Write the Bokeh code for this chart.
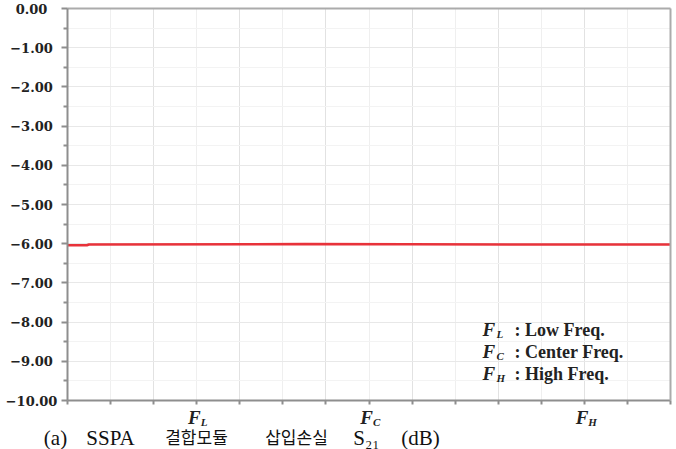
from bokeh.plotting import figure
from bokeh.models import Label, FixedTicker, Range1d, LinearAxis
from bokeh.embed import file_html
from bokeh.resources import INLINE

# ---- data ----
freq_pos = [0.0, 0.45, 0.5, 5.5, 11.6, 14.0]
s21_db = [-6.04, -6.04, -6.02, -6.01, -6.02, -6.02]

y_ticks = [0, -1, -2, -3, -4, -5, -6, -7, -8, -9, -10]
y_tick_labels = ["0.00", "−1.00", "−2.00", "−3.00", "−4.00", "−5.00",
                 "−6.00", "−7.00", "−8.00", "−9.00", "−10.00"]
x_ticks = list(range(15))
x_label_pos = [3, 7, 12]
x_label_main = ["F", "F", "F"]
x_label_sub = ["L", "C", "H"]
legend_sub = ["L", "C", "H"]
legend_desc = [": Low Freq.", ": Center Freq.", ": High Freq."]
caption_parts = ["(a)", "SSPA", "결합모듈", "삽입손실", "S₂₁", "(dB)"]

# ---- layout (pixels) ----
X0, X1 = 0, 14
Y0, Y1 = -10, 0
W, H = 676, 449
BL, BR, BT, BB = 67, 6, 8, 49
pxx = (W - BL - BR) / (X1 - X0)
pxy = (H - BT - BB) / (Y1 - Y0)


def px_x(px):
    return X0 + (px - BL) / pxx


def px_y(py):
    return Y1 - (py - BT) / pxy


p = figure(width=W, height=H, output_backend="svg", toolbar_location=None,
           x_range=Range1d(X0 - BL / pxx, X1 + BR / pxx),
           y_range=Range1d(Y0 - BB / pxy, Y1 + BT / pxy),
           min_border=0, x_axis_location="below", y_axis_location="left")
p.background_fill_color = "white"
p.border_fill_color = "white"
p.outline_line_color = None

AX = "#8e8e8e"
xt = FixedTicker(ticks=[t for t in x_ticks if t % 2 == 0],
                 minor_ticks=[t for t in x_ticks if t % 2 == 1])
yt = FixedTicker(ticks=y_ticks, minor_ticks=[t - 0.5 for t in y_ticks[:-1]])

xa = p.xaxis[0]
ya = p.yaxis[0]
xa.ticker = xt
ya.ticker = yt
xa.fixed_location = Y0
ya.fixed_location = X0
xa.bounds = (X0, X1)
ya.bounds = (Y0, Y1)

top_ax = LinearAxis(fixed_location=Y1, bounds=(X0, X1), ticker=xt)
right_ax = LinearAxis(fixed_location=X1, bounds=(Y0, Y1), ticker=yt)
p.add_layout(top_ax, "above")
p.add_layout(right_ax, "right")

for ax in (xa, ya, top_ax, right_ax):
    ax.axis_line_color = AX
    ax.axis_line_width = 2
    ax.major_tick_line_color = AX
    ax.minor_tick_line_color = AX
    ax.major_tick_line_width = 2
    ax.minor_tick_line_width = 2
    ax.major_tick_in = 0
    ax.minor_tick_in = 0
    ax.major_label_text_color = None
    ax.major_label_text_font_size = "1px"
xa.major_tick_out = 4
xa.minor_tick_out = 4
ya.major_tick_out = 6
ya.minor_tick_out = 4
for ax in (top_ax, right_ax):
    ax.axis_line_color = "#ababab"
    ax.major_tick_out = 0
    ax.minor_tick_out = 0
    ax.major_tick_line_color = None
    ax.minor_tick_line_color = None

p.xgrid.ticker = xt
p.ygrid.ticker = yt
p.xgrid.bounds = (X0, X1)
p.ygrid.bounds = (Y0, Y1)
p.xgrid.cross_bounds = (Y0, Y1)
p.ygrid.cross_bounds = (X0, X1)
p.xgrid.grid_line_color = "#e2e2e2"
p.xgrid.minor_grid_line_color = "#efefef"
p.ygrid.grid_line_color = "#e8e8e8"
p.ygrid.minor_grid_line_color = "#f3f3f3"

p.line(freq_pos, s21_db, line_color="#e8323a", line_width=2.5)

SERIF = "DejaVu Serif"
LSERIF = "Liberation Serif"
INK = "#222222"

# y tick labels (centred as in the reference)
for t, lab in zip(y_ticks, y_tick_labels):
    p.add_layout(Label(x=px_x(31), y=t, text=lab, text_align="center",
                       text_baseline="middle", text_font=SERIF,
                       text_font_style="bold", text_font_size="13px",
                       text_color=INK))

# x tick labels F_L, F_C, F_H
for xp, m, s in zip(x_label_pos, x_label_main, x_label_sub):
    p.add_layout(Label(x=xp + 4 / pxx, y=px_y(417), text=m,
                       text_align="right", text_baseline="alphabetic",
                       text_font=LSERIF, text_font_style="bold italic",
                       text_font_size="19px", text_color=INK))
    p.add_layout(Label(x=xp + 4 / pxx, y=px_y(421), text=s,
                       text_align="left", text_baseline="alphabetic",
                       text_font=LSERIF, text_font_style="bold italic",
                       text_font_size="11px", text_color=INK))

# legend note
for i, (s, d) in enumerate(zip(legend_sub, legend_desc)):
    base_px = 329 + 22 * i
    p.add_layout(Label(x=px_x(482), y=px_y(base_px), text="F",
                       text_align="left", text_baseline="alphabetic",
                       text_font=LSERIF, text_font_style="bold italic",
                       text_font_size="19px", text_color=INK))
    p.add_layout(Label(x=px_x(496), y=px_y(base_px + 4), text=s,
                       text_align="left", text_baseline="alphabetic",
                       text_font=LSERIF, text_font_style="bold italic",
                       text_font_size="11px", text_color=INK))
    p.add_layout(Label(x=px_x(514), y=px_y(base_px), text=d,
                       text_align="left", text_baseline="alphabetic",
                       text_font=LSERIF, text_font_style="bold",
                       text_font_size="18px", text_color=INK))

# caption, laid out word by word as in the reference
cap_center_px = [55, 110, 196, 296, 366, 420]
cap_is_cjk = [False, False, True, True, False, False]
for txt, cp, cjk in zip(caption_parts, cap_center_px, cap_is_cjk):
    if cjk:
        lab = Label(x=px_x(cp), y=px_y(448), text=txt, text_align="center",
                    text_baseline="bottom", text_font="Noto Sans CJK KR",
                    text_font_size="17px", text_color="#111111")
    else:
        lab = Label(x=px_x(cp), y=px_y(425), text=txt, text_align="center",
                    text_baseline="top", text_font=LSERIF,
                    text_font_size="21px", text_color="#111111")
    p.add_layout(lab)

open("out.html", "w").write(file_html(p, INLINE))
